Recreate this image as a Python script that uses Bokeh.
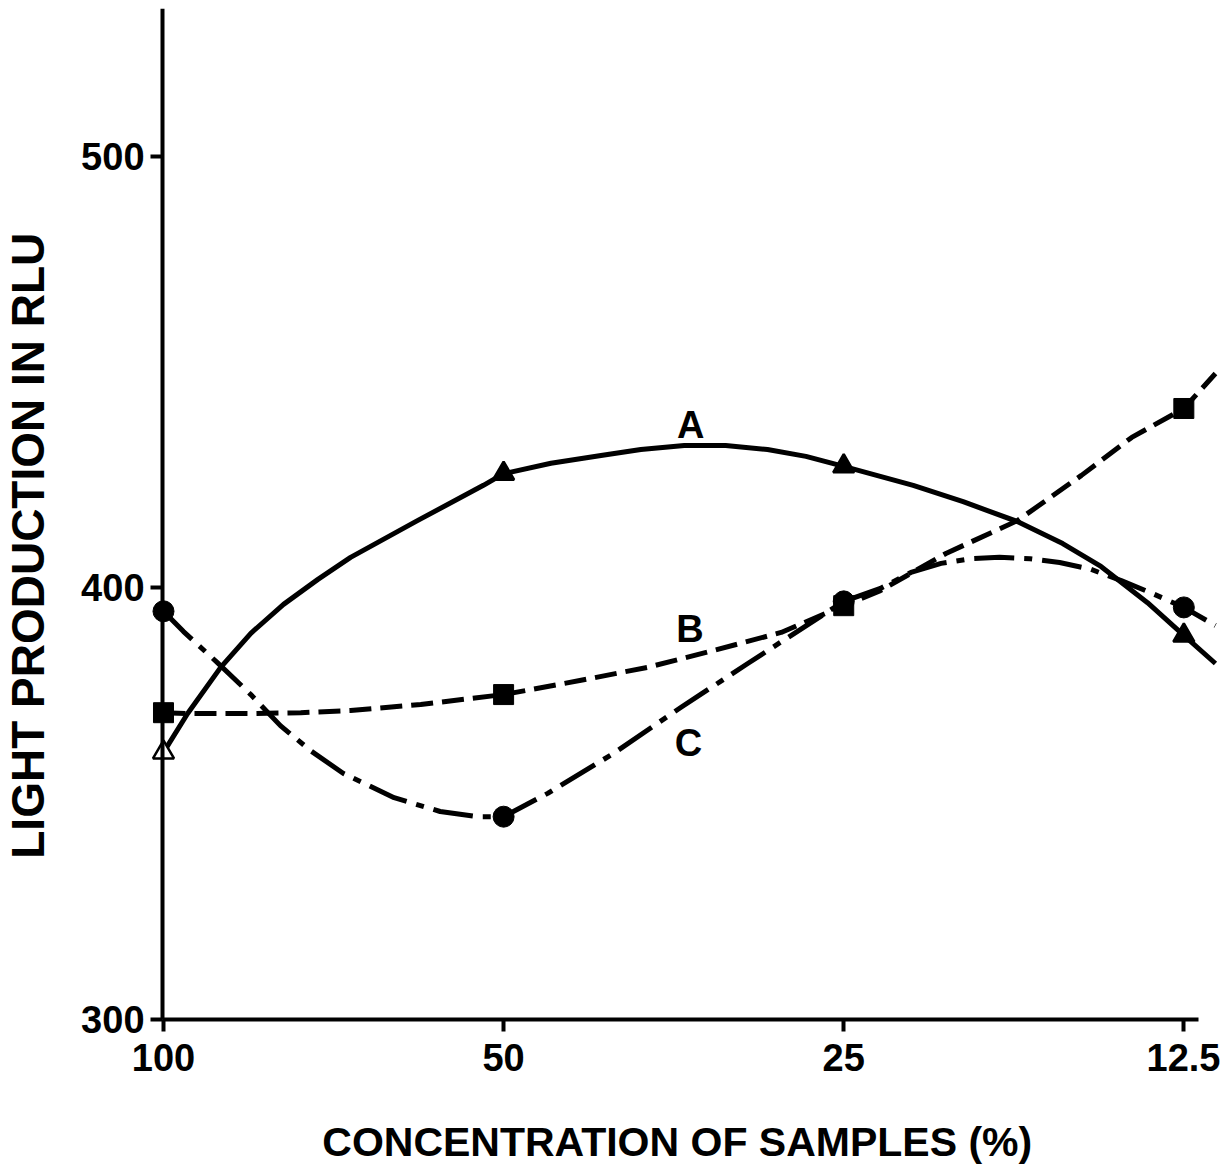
import math
from bokeh.plotting import figure
from bokeh.models import Range1d, FixedTicker, NumeralTickFormatter, Label
from bokeh.core.properties import value
from bokeh.embed import file_html
from bokeh.resources import INLINE

# ---- data ----
conc = [100, 50, 25, 12.5]
rlu_A = [361.9, 426.5, 428.2, 389.0]
rlu_B = [371.1, 375.3, 395.9, 441.6]
rlu_C = [394.6, 347.0, 396.9, 395.5]

# traced points along the hand-drawn smooth curves
curve_A_x = [100, 95.2, 89.0, 83.7, 78.3, 73.0, 68.3, 59.6, 52.1, 50, 45.4, 41.0,
             37.8, 34.6, 31.8, 29.2, 27.0, 25, 21.7, 19.6, 17.55, 16.0, 14.8,
             13.46, 12.5, 11.72]
curve_A_y = [361.9, 370.9, 381.6, 389.5, 396.2, 402.0, 407.1, 415.6, 423.8, 426.5,
             428.9, 430.7, 432.1, 433.0, 433.0, 432.1, 430.5, 428.2, 423.8, 420.0,
             415.4, 410.3, 405.0, 396.6, 389.0, 382.5]
curve_B_x = [100, 94.7, 83.7, 75.6, 68.3, 59.2, 50, 42.7, 37.3, 32.6, 28.4,
             25, 23.2, 20.3, 17.55, 15.4, 13.9, 12.5, 11.72]
curve_B_y = [371.1, 370.9, 370.9, 371.1, 371.6, 373.0, 375.3, 378.6, 381.6, 385.5,
             389.7, 395.9, 399.4, 408.0, 415.6, 426.1, 434.9, 441.6, 449.7]
curve_C_x = [100, 96.0, 89.6, 83.7, 78.8, 74.1, 69.3, 62.5, 56.9, 52.7, 50, 45.7,
             40.0, 34.85, 30.4, 25, 23.2, 21.8, 20.5, 19.3, 18.2, 17.1, 16.1,
             15.1, 14.2, 13.4, 12.5, 11.72]
curve_C_y = [394.6, 389.9, 382.7, 375.3, 368.1, 362.3, 357.0, 351.4, 348.2, 347.0,
             347.0, 352.4, 361.6, 372.3, 382.5, 396.9, 399.9, 403.6, 405.7,
             406.8, 407.1, 406.8, 405.9, 404.3, 401.7, 399.0, 395.5, 391.3]

curve_names = ["A", "B", "C"]
name_x = [34.15, 34.2, 34.3]
name_y = [437.7, 390.6, 364.0]

x_ticks = [100, 50, 25, 12.5]
y_ticks = [300, 400, 500]
x_title = "CONCENTRATION OF SAMPLES (%)"
y_title = "LIGHT PRODUCTION IN RLU"

FONT = "Liberation Sans"

# the frame covers the whole canvas; axes are drawn at fixed data locations
p = figure(x_axis_type="log",
           x_range=Range1d(139.4, 11.60), y_range=Range1d(265.0, 534.3),
           frame_width=1220, frame_height=1162,
           min_border_left=0, min_border_right=0, min_border_top=8,
           min_border_bottom=0,
           output_backend="svg", toolbar_location=None)
p.outline_line_color = None
p.xgrid.grid_line_color = None
p.ygrid.grid_line_color = None
p.background_fill_color = "white"
p.border_fill_color = "white"

for ax in (p.xaxis[0], p.yaxis[0]):
    ax.axis_line_width = 4
    ax.axis_line_color = "black"
    ax.major_tick_in = 0
    ax.major_tick_out = 12
    ax.major_tick_line_width = 4
    ax.major_tick_line_color = "black"
    ax.minor_tick_line_color = None
    ax.major_label_text_font = FONT
    ax.major_label_text_font_size = "38px"
    ax.major_label_text_font_style = "bold"
    ax.major_label_text_color = "black"

p.xaxis.ticker = FixedTicker(ticks=x_ticks)
p.xaxis.formatter = NumeralTickFormatter(format="0.[0]")
p.xaxis.bounds = (12.13, 100.2)
p.xaxis.fixed_location = 300
p.xaxis.major_label_standoff = 13

p.yaxis.ticker = FixedTicker(ticks=y_ticks)
p.yaxis.bounds = (300, 534.3)
p.yaxis.fixed_location = 100.2
p.yaxis.major_label_standoff = 6

p.add_layout(Label(x=35.1, y=271.5, text=x_title, text_align="center",
                   text_baseline="middle", text_font=FONT, text_font_size="41px",
                   text_font_style="bold", text_color="black"))
p.add_layout(Label(x=131.7, y=409.8, text=y_title, angle=math.pi / 2,
                   text_align="center", text_baseline="middle", text_font=FONT,
                   text_font_size="46px", text_font_style="bold",
                   text_color="black"))

# curves
p.line(curve_A_x, curve_A_y, line_width=5, line_color="black", line_join="round")
p.line(curve_B_x, curve_B_y, line_width=5, line_color="black", line_dash="22 9",
       line_join="round")
p.line(curve_C_x, curve_C_y, line_width=5, line_color="black",
       line_dash="40 10 8 10", line_join="round")

# markers
p.scatter(conc, rlu_A, marker="triangle", size=21, line_color="black", line_width=2.5,
          fill_color=["white", "black", "black", "black"])
p.scatter(conc, rlu_B, marker="square", size=20, line_color="black",
          fill_color="black")
p.scatter(conc, rlu_C, marker="circle", size=21, line_color="black",
          fill_color="black")

p.text(name_x, name_y, text=curve_names, text_align="center", text_baseline="middle",
       text_font=value(FONT), text_font_size="38px", text_font_style="bold",
       text_color="black")

open("out.html", "w").write(file_html(p, INLINE))
